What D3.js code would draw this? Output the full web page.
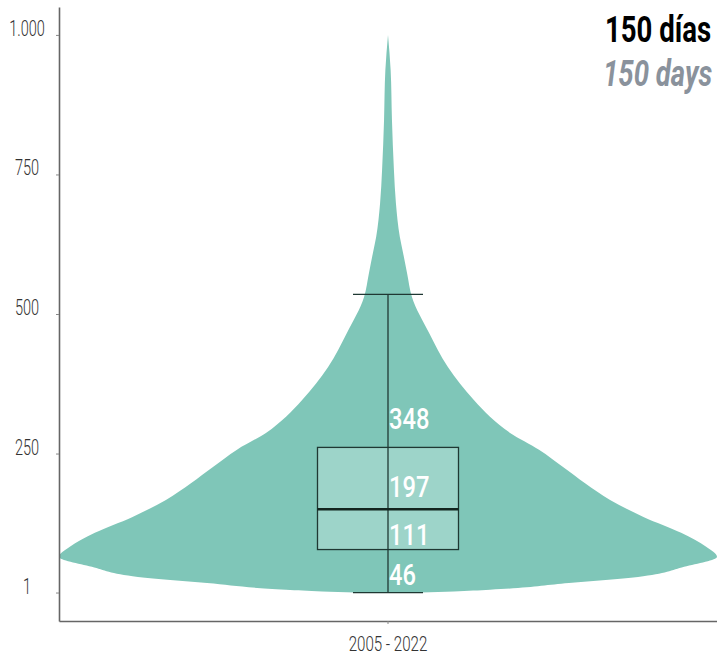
<!DOCTYPE html>
<html>
<head>
<meta charset="utf-8">
<script src="https://cdn.jsdelivr.net/npm/d3@7"></script>
<style>
  html, body { margin: 0; padding: 0; background: #fff; overflow: hidden; }
  svg { display: block; }
</style>
</head>
<body>
<svg id="chart" width="717" height="656"></svg>
<script>
// ---- data ----
const categories = ["2005 - 2022"];
// violin profile: value (days) and relative density
const violinValues  = [1, 3, 6, 18, 29, 47, 65, 83, 108, 136, 167, 197, 226, 257, 287, 316, 346, 405, 466, 530, 573, 609, 638, 699, 758, 848, 937, 1000];
const violinDensity = [0.10, 0.20, 0.31, 0.55, 0.76, 0.90, 1.00, 0.967, 0.891, 0.778, 0.675, 0.599, 0.532, 0.459, 0.371, 0.31, 0.261, 0.182, 0.125, 0.073, 0.058, 0.046, 0.036, 0.024, 0.018, 0.012, 0.008, 0.0];
// box plot: whisker low, q1, median, q3, whisker high
const boxStats = [1, 78, 150, 261, 535];
const boxLabels = ["46", "111", "197", "348"];
const yTickValues = [1, 250, 500, 750, 1000];
const yTickLabels = ["1", "250", "500", "750", "1.000"];
const titleLines = ["150 días", "150 days"];

// ---- layout ----
const svg = d3.select("#chart");
const plotLeft = 59, plotRight = 717;
const y = d3.scaleLinear().domain([-50, 1050]).range([621, 7]);
const x = d3.scaleBand().domain(categories).range([plotLeft, plotRight]).padding(0);
const cx = x(categories[0]) + x.bandwidth() / 2;
const w = d3.scaleLinear().domain([0, d3.max(violinDensity)]).range([0, x.bandwidth() / 2]);

const violin = violinValues.map((v, i) => ({ v, d: violinDensity[i] }));

// violin
const area = d3.area()
  .y(d => y(d.v))
  .x0(d => cx - w(d.d))
  .x1(d => cx + w(d.d))
  .curve(d3.curveMonotoneY);

svg.append("path")
  .datum(violin)
  .attr("d", area)
  .attr("fill", "#7fc6b8");

// box plot
const [wLo, q1, med, q3, wHi] = boxStats;
const boxHalf = 70.5, capHalf = 35;
const dark = "#1f3833";

svg.append("line")
  .attr("x1", cx).attr("x2", cx)
  .attr("y1", y(wLo)).attr("y2", y(wHi))
  .attr("stroke", dark).attr("stroke-width", 1.3);

svg.selectAll(".cap").data([wLo, wHi]).join("line")
  .attr("class", "cap")
  .attr("x1", cx - capHalf).attr("x2", cx + capHalf)
  .attr("y1", d => y(d)).attr("y2", d => y(d))
  .attr("stroke", dark).attr("stroke-width", 1.3);

svg.append("rect")
  .attr("x", cx - boxHalf).attr("width", boxHalf * 2)
  .attr("y", y(q3)).attr("height", y(q1) - y(q3))
  .attr("fill", "#9dd4c9")
  .attr("stroke", dark).attr("stroke-width", 1.3);

svg.append("line")
  .attr("x1", cx).attr("x2", cx)
  .attr("y1", y(q3)).attr("y2", y(q1))
  .attr("stroke", dark).attr("stroke-width", 1.3);

svg.append("line")
  .attr("x1", cx - boxHalf).attr("x2", cx + boxHalf)
  .attr("y1", y(med)).attr("y2", y(med))
  .attr("stroke", "#13251f").attr("stroke-width", 2.5);

// box labels (just above min, q1, median, q3)
const labelAnchors = [wLo, q1, med, q3];
const labelDy = [-8, -5, -12, -18];
svg.selectAll(".blabel").data(boxLabels).join("text")
  .attr("class", "blabel")
  .attr("transform", (d, i) => `translate(${cx + 1},${y(labelAnchors[i]) + labelDy[i]}) scale(0.79,1)`)
  .attr("font-family", "Roboto, sans-serif")
  .attr("font-weight", 500)
  .attr("font-size", 30)
  .attr("fill", "#ffffff")
  .text(d => d);

// y axis
const yAxis = d3.axisLeft(y).tickValues(yTickValues).tickSize(3).tickSizeOuter(0).tickFormat("");
const gy = svg.append("g").attr("transform", `translate(${plotLeft},0)`).call(yAxis);
gy.select(".domain").attr("stroke", "#666").attr("stroke-width", 1.6);
gy.selectAll(".tick line").attr("stroke", "#888");

svg.selectAll(".ylabel").data(yTickValues).join("text")
  .attr("class", "ylabel")
  .attr("transform", d => `translate(27,${y(d) + 1}) scale(0.66,1)`)
  .attr("text-anchor", "middle")
  .attr("font-family", "Roboto, sans-serif")
  .attr("font-weight", 300)
  .attr("font-size", 22)
  .attr("fill", "#333")
  .text((d, i) => yTickLabels[i]);

// x axis
const xAxis = d3.axisBottom(x).tickSize(3).tickSizeOuter(0).tickFormat("");
const gx = svg.append("g").attr("transform", `translate(0,${y(-50)})`).call(xAxis);
gx.select(".domain").attr("stroke", "#666").attr("stroke-width", 1.6);
gx.selectAll(".tick line").attr("stroke", "#888");

svg.selectAll(".xlabel").data(categories).join("text")
  .attr("class", "xlabel")
  .attr("transform", d => `translate(${x(d) + x.bandwidth() / 2},651) scale(0.72,1)`)
  .attr("text-anchor", "middle")
  .attr("font-family", "Roboto, sans-serif")
  .attr("font-weight", 300)
  .attr("font-size", 21)
  .attr("fill", "#333")
  .text(d => d);

// title
svg.append("text")
  .attr("transform", "translate(605,42) scale(0.745,1)")
  .attr("font-family", "Roboto, sans-serif")
  .attr("font-weight", 700)
  .attr("font-size", 37)
  .attr("fill", "#000")
  .text(titleLines[0]);

svg.append("text")
  .attr("transform", "translate(603,86) scale(0.745,1)")
  .attr("font-family", "Roboto, sans-serif")
  .attr("font-weight", 700)
  .attr("font-style", "italic")
  .attr("font-size", 37)
  .attr("fill", "#8a929c")
  .text(titleLines[1]);
</script>
</body>
</html>
